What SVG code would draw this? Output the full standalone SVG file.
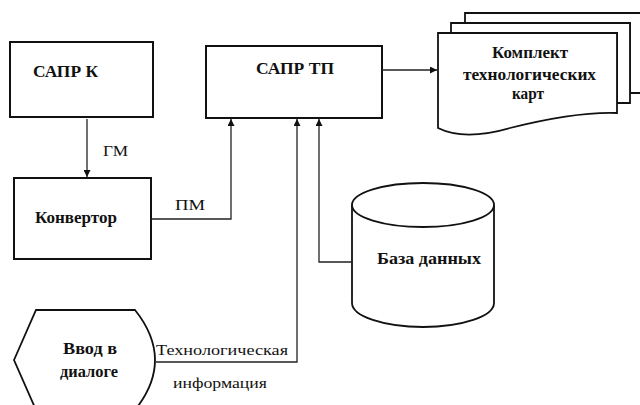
<svg xmlns="http://www.w3.org/2000/svg" width="640" height="405" viewBox="0 0 640 405">
<defs>
<marker id="ah" viewBox="0 0 10 10" refX="10" refY="5" markerWidth="7" markerHeight="7" markerUnits="userSpaceOnUse" orient="auto">
<path d="M0,0 L10,5 L0,10 Z" fill="#111"/>
</marker>
<style>
.box{fill:#fff;stroke:#111;stroke-width:2}
.shape{fill:#fff;stroke:#111;stroke-width:1.8}
.con{fill:none;stroke:#222;stroke-width:1.3}
.nl{font-family:"Liberation Serif","DejaVu Serif",serif;font-weight:bold;font-size:16px;fill:#111}
.el{font-family:"Liberation Serif","DejaVu Serif",serif;font-size:15px;fill:#111}
</style>
</defs>
<rect width="640" height="405" fill="#fff"/>
<g id="sapr-k">
<rect class="box" x="10" y="42" width="143" height="75"/>
<text class="nl" x="33" y="77" textLength="65" lengthAdjust="spacingAndGlyphs">САПР К</text>
</g>
<g id="konvertor">
<rect class="box" x="14" y="178" width="137" height="81"/>
<text class="nl" x="35" y="223" textLength="82" lengthAdjust="spacingAndGlyphs">Конвертор</text>
</g>
<g id="sapr-tp">
<rect class="box" x="206" y="46" width="176" height="72"/>
<text class="nl" x="256" y="74" textLength="78" lengthAdjust="spacingAndGlyphs">САПР ТП</text>
</g>
<g id="komplekt">
<path class="shape" d="M465,13 L645,13 L645,93 L630,93 L630,23 L465,23 Z"/>
<path class="shape" d="M451,23 L630,23 L630,103 L617,103 L617,33 L451,33 Z"/>
<path class="shape" d="M438,33 L617,33 L617,113 C590,112 550,118 510,128 C482,136 456,137 438,128 Z"/>
<text class="nl" x="492" y="58" textLength="76" lengthAdjust="spacingAndGlyphs">Комплект</text>
<text class="nl" x="463" y="80" textLength="133" lengthAdjust="spacingAndGlyphs">технологических</text>
<text class="nl" x="512" y="99" textLength="32" lengthAdjust="spacingAndGlyphs">карт</text>
</g>
<g id="baza">
<path class="shape" d="M352,205 L352,303 A71,24 0 0 0 494,303 L494,205"/>
<ellipse class="shape" cx="423" cy="205" rx="71" ry="22"/>
<text class="nl" x="377" y="264" textLength="104" lengthAdjust="spacingAndGlyphs">База данных</text>
</g>
<g id="vvod">
<path class="shape" d="M14,360 L36,310 L135,310 Q175,360 135,410 L36,410 Z"/>
<text class="nl" x="63" y="354" textLength="54" lengthAdjust="spacingAndGlyphs">Ввод в</text>
<text class="nl" x="60" y="377" textLength="58" lengthAdjust="spacingAndGlyphs">диалоге</text>
</g>
<g id="connectors">
<path class="con" d="M87,119 L87,177" marker-end="url(#ah)"/>
<path class="con" d="M151,219 L231,219 L231,119" marker-end="url(#ah)"/>
<path class="con" d="M156,362 L297,362 L297,119" marker-end="url(#ah)"/>
<path class="con" d="M352,262 L319,262 L319,119" marker-end="url(#ah)"/>
<path class="con" d="M382,70 L437,70" marker-end="url(#ah)"/>
<text class="el" x="103" y="156" textLength="25" lengthAdjust="spacingAndGlyphs">ГМ</text>
<text class="el" x="175" y="210" textLength="30" lengthAdjust="spacingAndGlyphs">ПМ</text>
<text class="el" x="156" y="355" textLength="132" lengthAdjust="spacingAndGlyphs">Технологическая</text>
<text class="el" x="173" y="388" textLength="94" lengthAdjust="spacingAndGlyphs">информация</text>
</g>
</svg>
